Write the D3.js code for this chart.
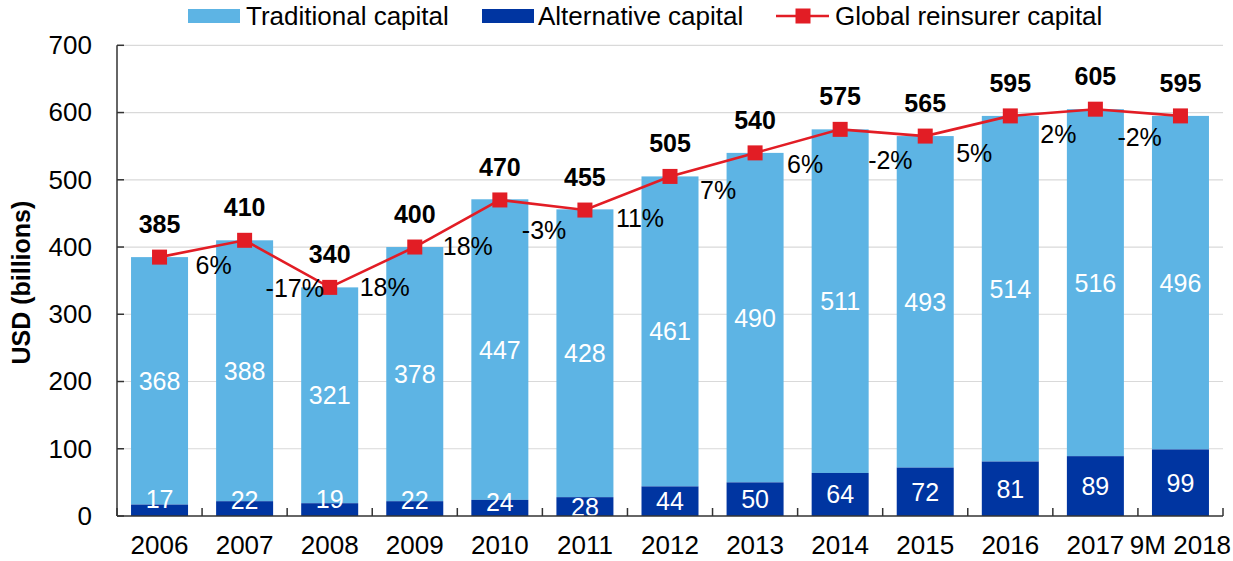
<!DOCTYPE html>
<html>
<head>
<meta charset="utf-8">
<script src="https://cdn.jsdelivr.net/npm/d3@7/dist/d3.min.js"></script>
<style>
  html, body { margin: 0; padding: 0; background: #fff; }
  svg { display: block; font-family: "Liberation Sans", Arial, Helvetica, sans-serif; }
</style>
</head>
<body>
<svg id="chart" width="1233" height="561"></svg>
<script>
// ---------- data ----------
const categories   = ["2006","2007","2008","2009","2010","2011","2012","2013","2014","2015","2016","2017","9M 2018"];
const traditional  = [368, 388, 321, 378, 447, 428, 461, 490, 511, 493, 514, 516, 496];
const alternative  = [17, 22, 19, 22, 24, 28, 44, 50, 64, 72, 81, 89, 99];
const totalCapital = [385, 410, 340, 400, 470, 455, 505, 540, 575, 565, 595, 605, 595];
const growthLabels = ["6%","-17%","18%","18%","-3%","11%","7%","6%","-2%","5%","2%","-2%"];
const yTicks       = [0, 100, 200, 300, 400, 500, 600, 700];
const seriesNames  = ["Traditional capital", "Alternative capital", "Global reinsurer capital"];

// ---------- layout (label nudges, px) ----------
const growthNudge = [[36,8],[21,48],[30,0],[28,-1],[22,30],[31,8],[30,14],[32,11],[28,31],[31,17],[30,18],[22,28]];
const altNudge    = [-11,-9,-11,-9,-6,0,0,0,0,0,0,0,0];

const colors = { trad: "#5db4e4", alt: "#0035a1", line: "#e21d25", grid: "#d9d9d9", axis: "#333" };
const FONT = 26;

const svg = d3.select("#chart");
const pLeft = 117, pRight = 1223, pTop = 45.3, pBottom = 516;

const x = d3.scaleBand().domain(categories).range([pLeft, pRight]).paddingInner(0.33).paddingOuter(0.165);
const y = d3.scaleLinear().domain([0, 700]).range([pBottom, pTop]);
const step = x.step();
const cx = c => x(c) + x.bandwidth() / 2;

// gridlines
svg.append("g").selectAll("line").data(yTicks.filter(d => d > 0)).join("line")
  .attr("x1", pLeft).attr("x2", pRight)
  .attr("y1", d => y(d)).attr("y2", d => y(d))
  .attr("stroke", colors.grid).attr("stroke-width", 1.2);

// bars
const rows = categories.map((c, i) => ({ c, i, alt: alternative[i], trad: traditional[i], total: totalCapital[i] }));
svg.append("g").selectAll("rect").data(rows).join("rect")
  .attr("x", d => x(d.c)).attr("width", x.bandwidth())
  .attr("y", d => y(d.alt + d.trad)).attr("height", d => y(d.alt) - y(d.alt + d.trad))
  .attr("fill", colors.trad);
svg.append("g").selectAll("rect").data(rows).join("rect")
  .attr("x", d => x(d.c)).attr("width", x.bandwidth())
  .attr("y", d => y(d.alt)).attr("height", d => y(0) - y(d.alt))
  .attr("fill", colors.alt);

// bar labels
svg.append("g").selectAll("text").data(rows).join("text")
  .attr("x", d => cx(d.c)).attr("y", d => y(d.alt + d.trad / 2))
  .attr("dy", "0.36em").attr("text-anchor", "middle")
  .attr("fill", "#fff").attr("font-size", 25).text(d => d.trad);
svg.append("g").selectAll("text").data(rows).join("text")
  .attr("x", d => cx(d.c)).attr("y", d => y(d.alt / 2) + altNudge[d.i])
  .attr("dy", "0.36em").attr("text-anchor", "middle")
  .attr("fill", "#fff").attr("font-size", 25).text(d => d.alt);

// axes
const yAxis = d3.axisLeft(y).tickValues(yTicks).tickSize(0).tickPadding(25);
const gy = svg.append("g").attr("transform", `translate(${pLeft},0)`).call(yAxis);
gy.select(".domain").remove();
gy.selectAll("text").attr("font-size", FONT).attr("fill", "#000");
gy.attr("font-family", null);
svg.append("g").selectAll("line").data(yTicks).join("line")
  .attr("x1", pLeft).attr("x2", pLeft + 7).attr("y1", d => y(d)).attr("y2", d => y(d))
  .attr("stroke", colors.axis).attr("stroke-width", 1.5);
svg.append("line").attr("x1", pLeft).attr("x2", pLeft).attr("y1", pTop).attr("y2", pBottom)
  .attr("stroke", colors.axis).attr("stroke-width", 1.5);

const xAxis = d3.axisBottom(x).tickSize(0).tickPadding(20);
const gx = svg.append("g").attr("transform", `translate(0,${pBottom})`).call(xAxis);
gx.select(".domain").remove();
gx.selectAll("text").attr("font-size", FONT).attr("fill", "#000");
gx.attr("font-family", null);
svg.append("line").attr("x1", pLeft).attr("x2", pRight).attr("y1", pBottom).attr("y2", pBottom)
  .attr("stroke", colors.axis).attr("stroke-width", 1.5);
const bounds = categories.map(c => x(c) - step * 0.165).concat([pRight]);
svg.append("g").selectAll("line").data(bounds).join("line")
  .attr("x1", d => d).attr("x2", d => d).attr("y1", pBottom).attr("y2", pBottom - 8)
  .attr("stroke", colors.axis).attr("stroke-width", 1.5);

// y title
svg.append("text").attr("transform", `translate(30,${(pTop + pBottom) / 2 + 2}) rotate(-90)`)
  .attr("text-anchor", "middle").attr("font-weight", "bold").attr("font-size", 25)
  .text("USD (billions)");

// line
const line = d3.line().x(d => cx(d.c)).y(d => y(d.total));
svg.append("path").datum(rows).attr("d", line)
  .attr("fill", "none").attr("stroke", colors.line).attr("stroke-width", 2.6);
const M = 15;
svg.append("g").selectAll("rect").data(rows).join("rect")
  .attr("x", d => cx(d.c) - M / 2).attr("y", d => y(d.total) - M / 2)
  .attr("width", M).attr("height", M).attr("fill", colors.line);

// total labels
svg.append("g").selectAll("text").data(rows).join("text")
  .attr("x", d => cx(d.c)).attr("y", d => y(d.total) - 33)
  .attr("dy", "0.36em").attr("text-anchor", "middle")
  .attr("font-weight", "bold").attr("font-size", 25).text(d => d.total);

// growth labels
svg.append("g").selectAll("text").data(growthLabels).join("text")
  .attr("x", (d, i) => cx(categories[i]) + growthNudge[i][0])
  .attr("y", (d, i) => y(totalCapital[i]) + growthNudge[i][1])
  .attr("dy", "0.36em").attr("text-anchor", "start")
  .attr("font-size", 25).text(d => d);

// legend
const lg = svg.append("g");
const ly = 16;
lg.append("rect").attr("x", 188).attr("y", ly - 7).attr("width", 52).attr("height", 14).attr("fill", colors.trad);
lg.append("text").attr("x", 246).attr("y", ly).attr("dy", "0.36em").attr("font-size", FONT).text(seriesNames[0]);
lg.append("rect").attr("x", 482).attr("y", ly - 7).attr("width", 52).attr("height", 14).attr("fill", colors.alt);
lg.append("text").attr("x", 538).attr("y", ly).attr("dy", "0.36em").attr("font-size", FONT).text(seriesNames[1]);
lg.append("line").attr("x1", 776).attr("x2", 829).attr("y1", ly).attr("y2", ly).attr("stroke", colors.line).attr("stroke-width", 2.6);
lg.append("rect").attr("x", 803 - M / 2).attr("y", ly - M / 2).attr("width", M).attr("height", M).attr("fill", colors.line);
lg.append("text").attr("x", 835).attr("y", ly).attr("dy", "0.36em").attr("font-size", FONT).text(seriesNames[2]);
</script>
</body>
</html>
